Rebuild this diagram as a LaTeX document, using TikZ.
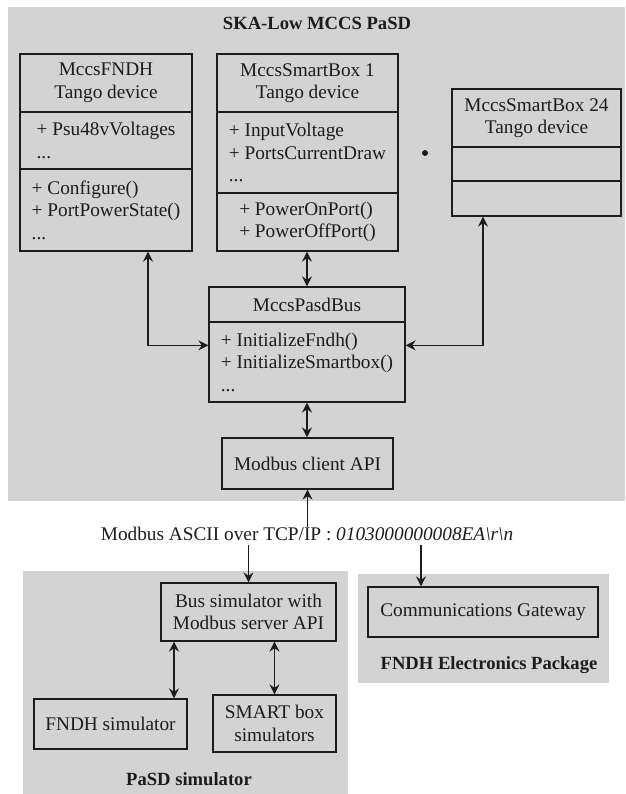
\documentclass[tikz,border=0pt]{standalone}
\usepackage{fontspec}
\setmainfont{Liberation Serif}
\usetikzlibrary{arrows.meta,calc}
\definecolor{bg}{RGB}{211,211,211}
\definecolor{ln}{RGB}{28,28,28}
\begin{document}
\begin{tikzpicture}[x=1pt,y=-1pt,
  every node/.style={font=\fontsize{19.3}{22.5}\selectfont, inner sep=0pt, text=ln},
  comp/.style={draw=ln, line width=1.3pt, align=left},
  hdr/.style={draw=ln, line width=1.3pt, align=center},
  grp/.style={font=\fontsize{18.6}{22.5}\selectfont\bfseries},
  conn/.style={draw=ln, line width=1.3pt},
  >={Stealth[length=10pt,width=10pt,inset=3.5pt]}]
\useasboundingbox (0,0) rectangle (625,794);
% group backgrounds
\fill[bg] (8,7) rectangle (625,501);
\fill[bg] (23,571) rectangle (348,794);
\fill[bg] (358,574) rectangle (609,683);
\node[grp] (tmain) at (317,23) {SKA-Low MCCS PaSD};
\node[grp] (tsim) at (189,779) {PaSD simulator};
\node[grp] (tfep) at (489,665) {FNDH Electronics Package};
% MccsFNDH
\node[hdr, minimum width=172pt, minimum height=58pt] (fndhA) at (106,83) {MccsFNDH\\Tango device};
\node[comp, minimum width=172pt, minimum height=57pt] (fndhB) at (106,140.5) {+ Psu48vVoltages\\...};
\node[comp, minimum width=172pt, minimum height=82pt] (fndhC) at (106,210) {+ Configure()\\+ PortPowerState()\\...};
% MccsSmartBox 1
\node[hdr, minimum width=181pt, minimum height=58pt] (sb1A) at (307.5,83) {MccsSmartBox 1\\Tango device};
\node[comp, minimum width=181pt, minimum height=81pt] (sb1B) at (307.5,152.5) {+ InputVoltage\\+ PortsCurrentDraw\\...};
\node[comp, minimum width=181pt, minimum height=58pt] (sb1C) at (307.5,222) {+ PowerOnPort()\\+ PowerOffPort()};
% MccsSmartBox 24
\node[hdr, minimum width=169pt, minimum height=58pt] (sbzA) at (536.5,118) {MccsSmartBox 24\\Tango device};
\node[comp, minimum width=169pt, minimum height=34pt] (sbzB) at (536.5,164) {};
\node[comp, minimum width=169pt, minimum height=35pt] (sbzC) at (536.5,198.5) {};
\fill[ln] (425,153) circle (3pt);
% MccsPasdBus
\node[hdr, minimum width=196pt, minimum height=35pt] (busA) at (307,304.5) {MccsPasdBus};
\node[comp, minimum width=196pt, minimum height=80pt] (busB) at (307,362) {+ InitializeFndh()\\+ InitializeSmartbox()\\...};
% Modbus client
\node[hdr, minimum width=171pt, minimum height=51pt] (client) at (307.5,463.5) {Modbus client API};
% protocol text
\node (mtext) at (307,534) {Modbus ASCII over TCP/IP : \textit{0103000000008EA\textbackslash r\textbackslash n}};
% simulator
\node[hdr, minimum width=175pt, minimum height=58pt] (bussim) at (248.5,612) {Bus simulator with\\Modbus server API};
\node[hdr, minimum width=153pt, minimum height=50pt] (fsim) at (110.5,724) {FNDH simulator};
\node[hdr, minimum width=123pt, minimum height=57pt] (smart) at (274.5,723.5) {SMART box\\simulators};
% gateway
\node[hdr, minimum width=230pt, minimum height=50pt] (gw) at (483,612) {Communications Gateway};
% helper coordinates
\coordinate (busL) at ([yshift=-24pt]busB.north west);
\coordinate (busR) at ([yshift=-24pt]busB.north east);
\coordinate (fndhP) at ([xshift=42pt]fndhC.south);
\coordinate (sbzP) at ([xshift=-53.5pt]sbzC.south);
\coordinate (mt) at ([yshift=-4pt]mtext.south);
\coordinate (gwP) at ([xshift=-62pt]gw.north);
\coordinate (bsL) at ([xshift=-74.5pt]bussim.south);
% connectors
\draw[conn,<->] (fndhP) |- (busL);
\draw[conn,<->] (sb1C.south -| busA.north) -- (busA.north);
\draw[conn,<->] (sbzP) |- (busR);
\draw[conn,<->] (busB.south) -- (busB.south |- client.north);
\draw[conn,->] (mtext.north -| client.south) -- (client.south);
\draw[conn,->] (mt -| bussim.north) -- (bussim.north);
\draw[conn,->] (mt -| gwP) -- (gwP);
\draw[conn,<->] (bsL) -- (bsL |- fsim.north);
\draw[conn,<->] (smart.north |- bussim.south) -- (smart.north);
\end{tikzpicture}
\end{document}
